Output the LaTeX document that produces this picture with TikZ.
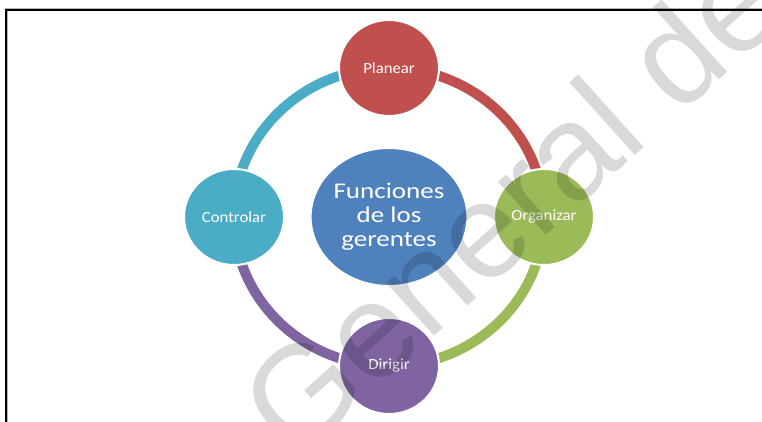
\documentclass[tikz,border=0pt]{standalone}
\usepackage{fontspec}
\setmainfont{Carlito}
\newfontfamily\lblfont[FakeStretch=1.08]{Carlito}
\newfontfamily\ctrfont[FakeStretch=1.2]{Carlito}
\newfontfamily\wmfont{Liberation Sans}
\definecolor{cRed}{HTML}{C0504D}
\definecolor{cGreen}{HTML}{9BBB59}
\definecolor{cPurple}{HTML}{8064A2}
\definecolor{cCyan}{HTML}{4BACC6}
\definecolor{cBlue}{HTML}{4F81BD}
\begin{document}
\begin{tikzpicture}[x=1pt,y=1pt,
  smallcirc/.style={ellipse, minimum width=100pt, minimum height=96pt, inner sep=0pt,
    draw=white, line width=2pt, text=white, font=\lblfont\fontsize{15.5}{17}\selectfont},
  bigcirc/.style={ellipse, minimum width=145pt, minimum height=138pt, inner sep=0pt,
    draw=white, line width=2pt, fill=cBlue, text=white, align=center,
    font=\ctrfont\fontsize{22.5}{24}\selectfont},
  ring/.style={line width=10pt},
  frameline/.style={line width=1.6pt, black}]
\usetikzlibrary{shapes.geometric}
\useasboundingbox (0,0) rectangle (762,422);
\fill[white] (0,0) rectangle (762,422);
% frame
\coordinate (fc) at (6,412);
\coordinate (fb) at (6,0);
\coordinate (fr) at (762,412);
\draw[gray!60, line width=3pt] (fb) -- (fc) -- (fr);
\draw[frameline] (fb) -- (fc) -- (fr);
% ring anchor points
\coordinate (Pc) at (389,354);
\coordinate (Oc) at (544,205);
\coordinate (Dc) at (389,56);
\coordinate (Cc) at (234,205);
\draw[ring, cRed] (Pc) arc[start angle=90, end angle=0, x radius=155, y radius=149];
\draw[ring, cGreen] (Oc) arc[start angle=0, end angle=-90, x radius=155, y radius=149];
\draw[ring, cPurple] (Dc) arc[start angle=-90, end angle=-180, x radius=155, y radius=149];
\draw[ring, cCyan] (Cc) arc[start angle=180, end angle=90, x radius=155, y radius=149];
% circles
\node[smallcirc, fill=cRed] (P) at (Pc) {Planear};
\node[smallcirc, fill=cGreen] (O) at (Oc) {Organizar};
\node[smallcirc, fill=cPurple] (D) at (Dc) {Dirigir};
\node[smallcirc, fill=cCyan] (C) at (Cc) {Controlar};
\node[bigcirc] (F) at (389,205) {Funciones\\de los\\gerentes};
% watermark
\begin{scope}
\clip (0,0) rectangle (762,422);
\node[anchor=base west, rotate=42, opacity=0.15, text=black,
  font=\wmfont\fontsize{135}{135}\selectfont, inner sep=0pt] (W) at (294,-41) {General de};
\end{scope}
\end{tikzpicture}
\end{document}
